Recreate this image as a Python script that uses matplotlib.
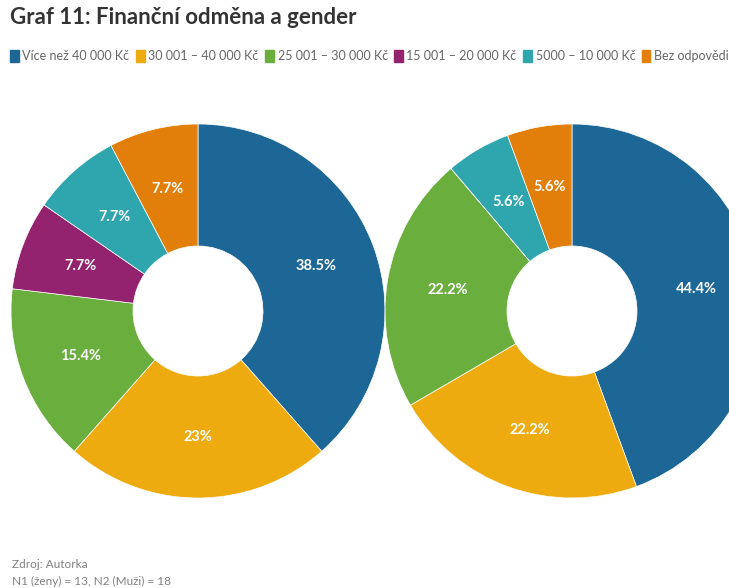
import numpy as np
import matplotlib
matplotlib.use("Agg")
import matplotlib.pyplot as plt
from matplotlib.patches import Patch

# Income brackets and answer shares (%) for women and men
categories = ["Více než 40 000 Kč", "30 001 – 40 000 Kč", "25 001 – 30 000 Kč",
              "15 001 – 20 000 Kč", "5000 – 10 000 Kč", "Bez odpovědi"]
women = [38.5, 23, 15.4, 7.7, 7.7, 7.7]
men = [44.4, 22.2, 22.2, 0, 5.6, 5.6]
colors = ["#1d6797", "#eeab0f", "#6aae3d", "#93226f", "#2fa5ad", "#e27f0b"]

title = "Graf 11: Finanční odměna a gender"
source_lines = ["Zdroj: Autorka", "N1 (ženy) = 13, N2 (Muži) = 18"]

W, H = 729, 588
fig = plt.figure(figsize=(W / 100, H / 100), dpi=100)
ax = fig.add_axes([0, 0, 1, 1])

R = 187
HOLE = 65
ring = R - HOLE


def fmt(v):
    return f"{v:g}%"


def donut(values, cx, cy):
    wedges, _ = ax.pie(values, colors=colors, startangle=90, counterclock=False,
                       radius=R, center=(cx, cy), normalize=True,
                       wedgeprops=dict(width=ring, edgecolor="white", linewidth=0.5))
    total = sum(values)
    ang = 90.0
    rl = (R + HOLE) / 2
    for v in values:
        span = 360.0 * v / total
        if v > 0:
            mid = np.deg2rad(ang - span / 2)
            ax.text(cx + rl * np.cos(mid), cy + rl * np.sin(mid), fmt(v),
                    ha="center", va="center", color="white", fontsize=10.5,
                    fontweight="bold", family="Lato")
        ang -= span
    return wedges


donut(women, 198, H - 311)
donut(men, 572, H - 311)

# pie() resets the view, so fix the pixel-based limits afterwards
ax.set_xlim(0, W)
ax.set_ylim(0, H)
ax.set_aspect("equal")
ax.axis("off")

fig.text(10 / W, 1 - 24 / H, title, fontsize=16, fontweight="bold",
         family="Lato", color="#333333", va="baseline", ha="left")

handles = [Patch(facecolor=c, edgecolor=c) for c in colors]
fig.legend(handles, categories, loc="center left", bbox_to_anchor=(10 / W, 1 - 56 / H),
           ncol=6, frameon=False, handlelength=0.7, handleheight=1.1,
           handletextpad=0.3, columnspacing=0.5, borderpad=0, borderaxespad=0,
           prop=dict(family="Lato", size=9), labelcolor="#666666")

fig.text(12 / W, 1 - 565 / H, source_lines[0], fontsize=8.5, family="Lato",
         color="#808080", va="center", ha="left")
fig.text(12 / W, 1 - 581 / H, source_lines[1], fontsize=8.5, family="Lato",
         color="#808080", va="center", ha="left")

fig.savefig("out.png", dpi=100, facecolor="white")
